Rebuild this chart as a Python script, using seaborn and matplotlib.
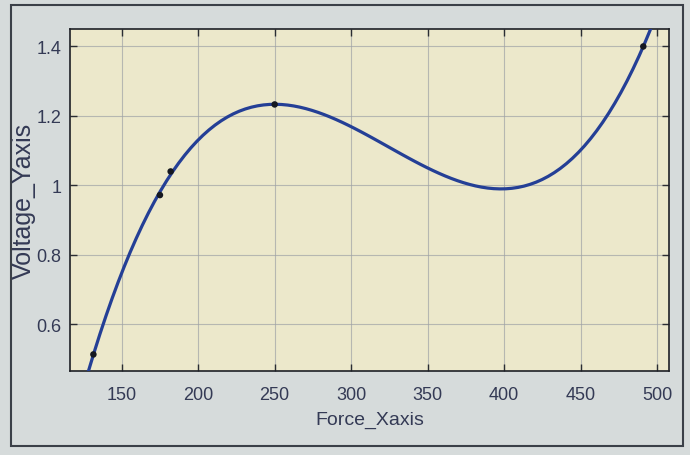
"""
Cubic fit of voltage against force (MATLAB style figure)
"""
import matplotlib
matplotlib.use("Agg")
import numpy as np
import pandas as pd
import matplotlib.pyplot as plt
import seaborn as sns
from matplotlib.patches import Rectangle

# Data
force = [131.5, 175, 182, 250, 491]
voltage = [0.513, 0.972, 1.040, 1.233, 1.400]
x_ticks = [150, 200, 250, 300, 350, 400, 450, 500]
y_ticks = [0.6, 0.8, 1.0, 1.2, 1.4]
y_tick_labels = ["0.6", "0.8", "1", "1.2", "1.4"]
x_label = "Force_Xaxis"
y_label = "Voltage_Yaxis"

# Settings
FONT = ["Liberation Sans", "DejaVu Sans"]
COL_BG = "#d6dbdb"
COL_AX = "#ece8cb"
COL_TXT = "#343a55"
COL_LINE = "#243f96"


def plot_fit():
    sns.set_style("ticks")
    plt.rcParams["font.family"] = FONT
    df = pd.DataFrame({"force": force, "voltage": voltage})

    fig = plt.figure(figsize=(6.9, 4.56), dpi=100, facecolor=COL_BG)
    ax = fig.add_axes([0.101, 0.184, 0.869, 0.750])
    ax.set_facecolor(COL_AX)
    ax.set_xlim(116, 508)
    ax.set_ylim(0.465, 1.45)

    # cubic fit over the full axis range, then the measured points on top
    sns.regplot(data=df, x="force", y="voltage", order=3, ci=None, truncate=False,
                scatter=False, ax=ax, line_kws=dict(color=COL_LINE, lw=2.3, zorder=3))
    sns.scatterplot(data=df, x="force", y="voltage", ax=ax, color="#151820",
                    s=22, edgecolor="none", zorder=4)

    ax.set_xticks(x_ticks)
    ax.set_yticks(y_ticks)
    ax.set_yticklabels(y_tick_labels)
    ax.grid(True, color="#9fa3a6", lw=0.8, alpha=0.7)
    ax.tick_params(direction="in", length=5, width=1, color="#2a2d33",
                   top=True, right=True, labelsize=13, labelcolor=COL_TXT)
    ax.tick_params(axis="x", pad=11)
    ax.tick_params(axis="y", pad=6)
    for s in ax.spines.values():
        s.set_color("#1e2026")
        s.set_linewidth(1.2)

    ax.set_xlabel(x_label, fontsize=14, color=COL_TXT, labelpad=5)
    ax.set_ylabel(y_label, fontsize=18, color=COL_TXT, labelpad=0)

    # frame of the window in the photo
    fig.patches.append(Rectangle((11 / 690, 9 / 456), 672 / 690, 441 / 456,
                                 transform=fig.transFigure, fill=False,
                                 edgecolor="#3b4048", lw=1.5))
    fig.savefig("out.png", dpi=100, facecolor=COL_BG)


def main():
    plot_fit()


if __name__ == "__main__":
    main()
